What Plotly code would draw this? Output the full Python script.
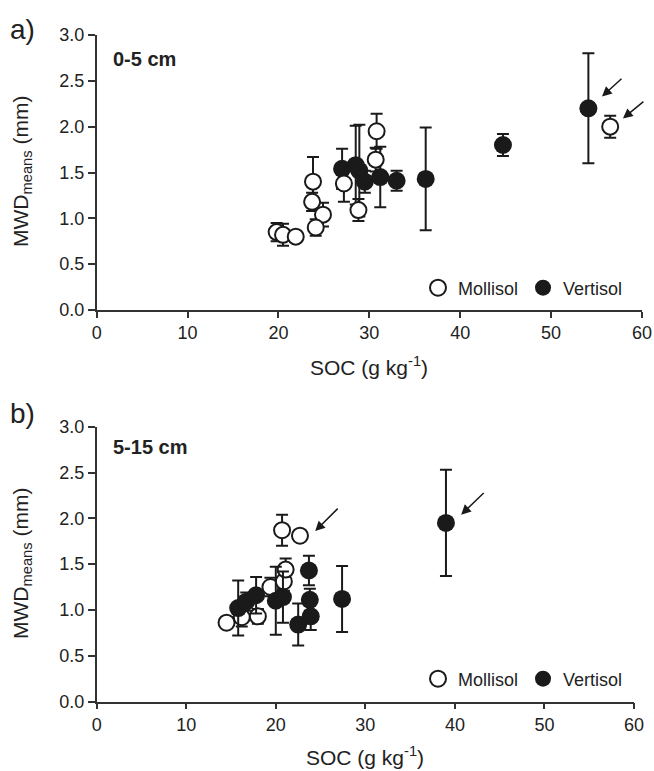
import plotly.graph_objects as go

# ---- data: 0-5 cm ----
soc_moll_a = [19.8, 20.5, 21.9, 23.8, 23.7, 24.9, 24.1, 27.2, 28.8, 30.8, 30.7, 56.5]
mwd_moll_a = [0.85, 0.82, 0.80, 1.40, 1.18, 1.04, 0.90, 1.38, 1.09, 1.95, 1.64, 2.00]
err_moll_a = [0.10, 0.12, 0.03, 0.27, 0.10, 0.13, 0.09, 0.20, 0.12, 0.19, 0.13, 0.12]

soc_vert_a = [27.0, 28.5, 28.9, 29.5, 31.2, 33.0, 36.2, 44.7, 54.1]
mwd_vert_a = [1.54, 1.58, 1.52, 1.40, 1.45, 1.41, 1.43, 1.80, 2.20]
err_vert_a = [0.22, 0.43, 0.50, 0.12, 0.33, 0.11, 0.56, 0.12, 0.60]

# ---- data: 5-15 cm ----
soc_moll_b = [14.5, 16.2, 18.0, 19.4, 20.9, 21.1, 20.7, 22.7]
mwd_moll_b = [0.86, 0.92, 0.93, 1.25, 1.31, 1.44, 1.87, 1.81]
err_moll_b = [0.05, 0.10, 0.08, 0.10, 0.10, 0.12, 0.17, 0.00]

soc_vert_b = [15.8, 16.7, 17.8, 20.0, 20.8, 22.5, 23.7, 23.8, 23.9, 27.4, 39.0]
mwd_vert_b = [1.02, 1.09, 1.16, 1.10, 1.14, 0.84, 1.43, 1.11, 0.93, 1.12, 1.95]
err_vert_b = [0.30, 0.10, 0.20, 0.37, 0.28, 0.23, 0.16, 0.12, 0.15, 0.36, 0.58]

x_ticks = [0, 10, 20, 30, 40, 50, 60]
y_ticks = [0.0, 0.5, 1.0, 1.5, 2.0, 2.5, 3.0]

FONT = "Liberation Sans, Arial, sans-serif"
W, H = 654, 771
INK = "#1a1a1a"

def err(vals):
    return dict(type="data", array=vals, visible=True, color=INK,
                thickness=2, width=6)

def moll(x, y, e, xa, ya, leg):
    return go.Scatter(x=x, y=y, error_y=err(e), mode="markers", name="Mollisol",
                      xaxis=xa, yaxis=ya, legend=leg, showlegend=True, legendrank=1,
                      marker=dict(symbol="circle", size=16, color="white",
                                  line=dict(color=INK, width=2)))

def vert(x, y, e, xa, ya, leg):
    return go.Scatter(x=x, y=y, error_y=err(e), mode="markers", name="Vertisol",
                      xaxis=xa, yaxis=ya, legend=leg, showlegend=True, legendrank=2,
                      marker=dict(symbol="circle", size=18, color=INK,
                                  line=dict(color=INK, width=0)))

fig = go.Figure()
fig.add_trace(vert(soc_vert_a, mwd_vert_a, err_vert_a, "x", "y", "legend"))
fig.add_trace(moll(soc_moll_a, mwd_moll_a, err_moll_a, "x", "y", "legend"))
fig.add_trace(moll(soc_moll_b, mwd_moll_b, err_moll_b, "x2", "y2", "legend2"))
fig.add_trace(vert(soc_vert_b, mwd_vert_b, err_vert_b, "x2", "y2", "legend2"))

def xaxis(domain, anchor):
    return dict(domain=domain, anchor=anchor, range=[0, 60], tickvals=x_ticks,
                automargin=False,
                showline=True, linecolor="#333", linewidth=1.5, ticks="outside",
                ticklen=6, tickwidth=1.5, tickcolor="#333", showgrid=False,
                zeroline=False, tickfont=dict(size=18, color="#222"))

def yaxis(domain, anchor):
    return dict(domain=domain, anchor=anchor, range=[0, 3.0], tickvals=y_ticks,
                automargin=False,
                tickformat=".1f", showline=True, linecolor="#333", linewidth=1.5,
                ticks="outside", ticklen=7, tickwidth=1.5, tickcolor="#333",
                showgrid=False, zeroline=False, tickfont=dict(size=18, color="#222"))

x0 = 96.7 / W
fig.update_layout(
    width=W, height=H, paper_bgcolor="white", plot_bgcolor="white",
    margin=dict(l=0, r=0, t=0, b=0, autoexpand=False),
    font=dict(family=FONT, color="#222"),
    xaxis=xaxis([x0, 642 / W], "y"),
    yaxis=yaxis([(H - 310) / H, (H - 35) / H], "x"),
    xaxis2=xaxis([x0, 634 / W], "y2"),
    yaxis2=yaxis([(H - 701.5) / H, (H - 426.7) / H], "x2"),
    legend=dict(orientation="h", x=628 / W, xanchor="right", y=(H - 288) / H,
                yanchor="middle", font=dict(size=18), bgcolor="rgba(0,0,0,0)",
                itemwidth=30, tracegroupgap=0, traceorder="normal"),
    legend2=dict(orientation="h", x=628 / W, xanchor="right", y=(H - 679) / H,
                 yanchor="middle", font=dict(size=18), bgcolor="rgba(0,0,0,0)",
                 itemwidth=30, tracegroupgap=0, traceorder="normal"),
)

def txt(text, x, y, size, anchor="left", angle=0):
    return dict(text=text, x=x / W, y=(H - y) / H, xref="paper", yref="paper",
                xanchor=anchor, yanchor="middle", showarrow=False, textangle=angle,
                font=dict(size=size, color="#222"))

ann = [
    txt("a)", 8, 30, 28),
    txt("b)", 8, 413, 28),
    txt("<b>0-5 cm</b>", 111, 59, 20),
    txt("<b>5-15 cm</b>", 111, 447, 20),
    txt("SOC (g kg<sup>-1</sup>)", 369, 366, 21, anchor="center"),
    txt("SOC (g kg<sup>-1</sup>)", 365, 756, 21, anchor="center"),
    txt("MWD<sub>means</sub> (mm)", 22, 172, 21, anchor="center", angle=-90),
    txt("MWD<sub>means</sub> (mm)", 22, 564, 21, anchor="center", angle=-90),
]
arrow_style = dict(showarrow=True, arrowhead=2, arrowsize=1.3, arrowwidth=1.5,
                   arrowcolor=INK, text="")
for xa, ya, x, y, ax, ay in [("x", "y", 55.6, 2.33, 21, -19),
                             ("x", "y", 57.9, 2.09, 22, -18),
                             ("x2", "y2", 40.7, 2.04, 24, -23),
                             ("x2", "y2", 24.4, 1.86, 24, -24)]:
    ann.append(dict(xref=xa, yref=ya, x=x, y=y, ax=ax, ay=ay, **arrow_style))
fig.update_layout(annotations=ann)

fig.write_html("out.html", config={"displayModeBar": False},
               post_script="document.body.style.margin='0';"
                           "document.body.style.overflow='hidden';")
